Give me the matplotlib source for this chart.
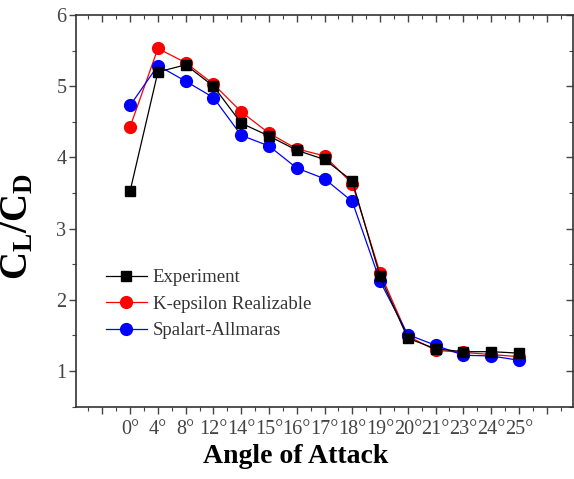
import numpy as np
import matplotlib
matplotlib.use("Agg")
import matplotlib.pyplot as plt
from matplotlib.ticker import MultipleLocator, FixedLocator, FixedFormatter, NullFormatter

plt.rcParams['font.family'] = ['Liberation Serif', 'DejaVu Serif']
plt.rcParams['mathtext.fontset'] = 'custom'
plt.rcParams['mathtext.rm'] = 'Liberation Serif:bold'
plt.rcParams['mathtext.it'] = 'Liberation Serif:bold'
plt.rcParams['mathtext.bf'] = 'Liberation Serif:bold'

angles = ["0°", "4°", "8°", "12°", "14°", "15°", "16°", "17°", "18°",
          "19°", "20°", "21°", "23°", "24°", "25°"]
experiment = [3.53, 5.20, 5.30, 5.00, 4.48, 4.30, 4.10, 3.97, 3.67,
              2.33, 1.46, 1.31, 1.27, 1.27, 1.25]
k_epsilon = [4.43, 5.53, 5.33, 5.03, 4.64, 4.34, 4.12, 4.02, 3.63,
             2.38, 1.49, 1.29, 1.26, 1.23, 1.20]
spalart = [4.73, 5.29, 5.07, 4.84, 4.31, 4.16, 3.85, 3.70, 3.38,
           2.26, 1.51, 1.36, 1.22, 1.21, 1.15]

fig = plt.figure(figsize=(5.74, 4.79), dpi=100)
ax = fig.add_axes([76/574, 1 - 406.5/479, (573 - 76)/574, (406.5 - 15)/479])

x = np.arange(len(angles))
ax.plot(x, experiment, color='black', lw=0.9, marker='s', ms=7,
        label='Experiment', zorder=3)
ax.plot(x, k_epsilon, color='red', lw=0.9, marker='o', ms=8.5,
        markeredgecolor='red', label='K-epsilon Realizable', zorder=2)
ax.plot(x, spalart, color='blue', lw=0.9, marker='o', ms=8.5,
        markeredgecolor='blue', label='Spalart-Allmaras', zorder=2.5)

ax.set_xlim(-1.95, 15.95)
ax.set_ylim(0.5, 6)

ax.xaxis.set_major_locator(FixedLocator(np.arange(-2, 17)))
ax.xaxis.set_major_formatter(FixedFormatter([''] * 2 + angles + [''] * 2))
ax.xaxis.set_minor_locator(FixedLocator(np.arange(-2, 16) + 0.5))
ax.yaxis.set_major_locator(MultipleLocator(1))
ax.yaxis.set_minor_locator(MultipleLocator(0.5))
ax.yaxis.set_minor_formatter(NullFormatter())

for side in ['left', 'bottom', 'top', 'right']:
    ax.spines[side].set_linewidth(1.2)
    ax.spines[side].set_color('#333333')

ax.tick_params(axis='both', which='both', colors='#444444', labelcolor='#444444',
               labelsize=14.5)
ax.tick_params(axis='x', which='major', direction='out', length=5, width=1, pad=5)
ax.tick_params(axis='x', which='minor', direction='out', length=3, width=0.8)
ax.tick_params(axis='y', which='major', direction='out', length=5, width=1, pad=2)
ax.tick_params(axis='y', which='minor', direction='out', length=3, width=0.8)

# inward ticks on the top and right edges
sec_top = ax.secondary_xaxis('top')
sec_top.xaxis.set_major_locator(FixedLocator(np.arange(-2, 17)))
sec_top.xaxis.set_minor_locator(FixedLocator(np.arange(-2, 16) + 0.5))
sec_top.tick_params(which='major', direction='in', length=5, width=1, colors='#444444',
                    labeltop=False)
sec_top.tick_params(which='minor', direction='in', length=3, width=0.8, colors='#444444')
sec_top.spines['top'].set_visible(False)
sec_right = ax.secondary_yaxis('right')
sec_right.yaxis.set_major_locator(MultipleLocator(1))
sec_right.yaxis.set_minor_locator(MultipleLocator(0.5))
sec_right.tick_params(which='major', direction='in', length=5, width=1, colors='#444444',
                      labelright=False)
sec_right.tick_params(which='minor', direction='in', length=3, width=0.8, colors='#444444')
sec_right.spines['right'].set_visible(False)

ax.set_xlabel('Angle of Attack', fontsize=20, fontweight='bold')
ax.xaxis.set_label_coords((296 - 76) / 497, -0.095, transform=ax.transAxes)
ax.set_ylabel(r'$\mathbf{C_L/C_D}$', fontsize=28)
ax.yaxis.set_label_coords(-0.08, (406.5 - 227) / 391.5)

leg = ax.legend(loc='upper left', bbox_to_anchor=(0.045, 0.37), frameon=False,
                fontsize=13.5, handlelength=2.2, handletextpad=0.3,
                labelspacing=0.5, borderaxespad=0)
for t in leg.get_texts():
    t.set_color('#333333')

fig.savefig('out.png', dpi=100)
